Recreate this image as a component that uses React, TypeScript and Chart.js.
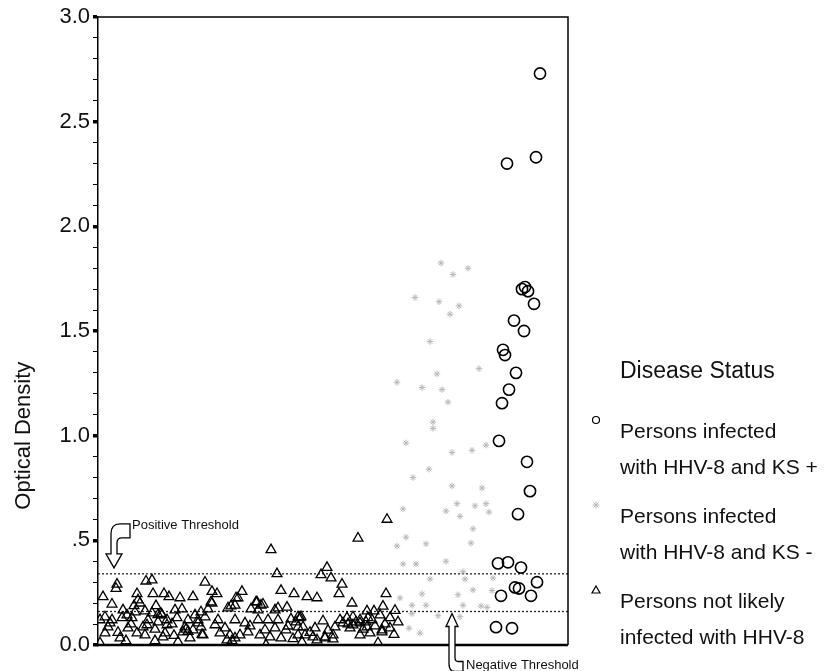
import React, { useEffect, useRef } from 'react';
import { Chart, registerables } from 'chart.js';

Chart.register(...registerables);

// ---- Axis / labels ----
const yMajorValues = [0, 0.5, 1, 1.5, 2, 2.5, 3];
const yMajorLabels = ['0.0', '.5', '1.0', '1.5', '2.0', '2.5', '3.0'];
const yAxisTitle = 'Optical Density';
const positiveThreshold = 0.34;
const negativeThreshold = 0.16;
const positiveLabel = 'Positive Threshold';
const negativeLabel = 'Negative Threshold';
const legendTitle = 'Disease Status';
const seriesNames = [
  ['Persons infected', 'with HHV-8 and KS +'],
  ['Persons infected', 'with HHV-8 and KS -'],
  ['Persons not likely', 'infected with HHV-8'],
];

// ---- KS+ (circles): subject order, optical density ----
const ksPosX = [442, 438, 409, 424, 427, 430, 436, 416, 426, 405, 407, 418, 411, 404, 401, 429, 432, 420, 400, 410, 423, 439, 417, 421, 403, 433, 398, 414];
const ksPosY = [2.73, 2.33, 2.30, 1.70, 1.71, 1.69, 1.63, 1.55, 1.50, 1.41, 1.385, 1.30, 1.22, 1.155, 0.975, 0.875, 0.735, 0.625, 0.39, 0.395, 0.37, 0.30, 0.275, 0.27, 0.235, 0.235, 0.085, 0.08];

// ---- KS- (gray stars) ----
const ksNegX = [343, 370, 355, 317, 341, 361, 352, 332, 381, 339, 299, 324, 344, 350, 335, 335, 308, 388, 374, 354, 331, 315, 354, 384, 305, 348, 359, 377, 388, 391, 362, 375, 308, 299, 328, 373, 305, 318, 348, 365, 332, 367, 395, 375, 360, 324, 302, 314, 328, 365, 383, 389, 340, 362, 314, 311, 322, 394];
const ksNegY = [1.825, 1.80, 1.77, 1.66, 1.64, 1.62, 1.58, 1.45, 1.32, 1.295, 1.255, 1.23, 1.22, 1.16, 1.065, 1.035, 0.965, 0.955, 0.93, 0.92, 0.84, 0.80, 0.76, 0.75, 0.65, 0.64, 0.675, 0.665, 0.675, 0.635, 0.615, 0.555, 0.515, 0.473, 0.483, 0.487, 0.387, 0.387, 0.40, 0.35, 0.315, 0.315, 0.32, 0.263, 0.24, 0.244, 0.225, 0.19, 0.19, 0.19, 0.186, 0.18, 0.14, 0.135, 0.15, 0.08, 0.057, 0.26];

// ---- Not infected (triangles) ----
const negX = [
  289, 260, 173, 179, 183, 229, 223, 233, 244, 196, 209, 219, 241, 288, 189, 254, 285, 203, 225, 297, 280,
  19, 18, 48, 54, 107, 5, 39, 55, 66, 71, 82, 95, 114, 119, 144, 14, 42, 58, 114, 138, 159, 165,
  40, 36, 25, 7, 29, 37, 47, 54, 64, 77, 84, 97,
  2, 14, 24, 34, 50, 69, 79, 90,
  10, 30, 45, 49, 69, 87, 95,
  7, 22, 39, 47, 65, 67, 92, 2, 85,
  12, 20, 33, 57, 60, 74, 76, 100, 104, 57, 28, 80,
  113, 140, 137, 158, 163, 103, 110, 130, 133, 153, 160, 177, 180,
  100, 107, 120, 137, 160, 170, 180, 193, 200,
  103, 117, 127, 147, 152, 167, 177, 188, 200,
  105, 122, 132, 142, 162, 172, 183, 200, 137, 168, 150, 129, 134,
  269, 276, 249, 255, 270, 282, 292, 202,
  205, 217, 237, 245, 252, 262, 269, 277, 284, 292,
  207, 215, 227, 235, 262, 272, 284,
  204, 219, 227, 235, 265, 258, 242, 230, 212, 287, 296, 300,
  60, 63, 88, 90, 250, 255, 262, 268, 274, 190, 195, 198,
];
const negY = [
  0.60, 0.51, 0.455, 0.34, 0.26, 0.37, 0.335, 0.32, 0.29, 0.245, 0.23, 0.225, 0.245, 0.245, 0.18, 0.20, 0.185, 0.135, 0.115, 0.165, 0.01,
  0.29, 0.27, 0.305, 0.31, 0.30, 0.23, 0.245, 0.245, 0.245, 0.23, 0.225, 0.23, 0.255, 0.245, 0.255, 0.195, 0.20, 0.187, 0.20, 0.225, 0.205, 0.195,
  0.215, 0.187, 0.167, 0.134, 0.143, 0.158, 0.162, 0.153, 0.143, 0.167, 0.172, 0.143,
  0.12, 0.12, 0.13, 0.13, 0.12, 0.12, 0.13, 0.12,
  0.086, 0.081, 0.086, 0.096, 0.096, 0.086, 0.072,
  0.057, 0.033, 0.057, 0.048, 0.038, 0.057, 0.033, 0.01, 0.062,
  0.105, 0.06, 0.10, 0.075, 0.11, 0.10, 0.045, 0.105, 0.05, 0.02, 0.02, 0.015,
  0.205, 0.225, 0.19, 0.205, 0.19, 0.158, 0.172, 0.177, 0.186, 0.172, 0.167, 0.167, 0.177,
  0.12, 0.134, 0.12, 0.12, 0.12, 0.12, 0.12, 0.124, 0.134,
  0.086, 0.096, 0.081, 0.105, 0.091, 0.072, 0.081, 0.072, 0.086,
  0.048, 0.057, 0.048, 0.048, 0.048, 0.038, 0.033, 0.048, 0.033, 0.0, 0.062, 0.024, 0.02,
  0.162, 0.162, 0.13, 0.134, 0.13, 0.143, 0.13, 0.13,
  0.086, 0.081, 0.086, 0.105, 0.081, 0.105, 0.086, 0.091, 0.072, 0.081,
  0.048, 0.038, 0.038, 0.048, 0.048, 0.057, 0.062,
  0.014, 0.024, 0.033, 0.029, 0.075, 0.11, 0.12, 0.07, 0.06, 0.10, 0.05, 0.11,
  0.145, 0.15, 0.075, 0.065, 0.10, 0.095, 0.12, 0.11, 0.12, 0.09, 0.03, 0.11,
];

const xMin = 0;
const xMax = 470;
const FONT = '"Liberation Sans", Arial, Helvetica, sans-serif';

const toPoints = (xs: number[], ys: number[]) => xs.map((x, i) => ({ x, y: ys[i] }));
const isMajor = (v: number) => yMajorValues.some((m) => Math.abs(m - v) < 1e-6);

const decorPlugin = {
  id: 'decor',
  afterDraw(chart: any) {
    const ctx: CanvasRenderingContext2D = chart.ctx;
    const { left, right, top, bottom } = chart.chartArea;
    const xs = chart.scales.x;
    const ys = chart.scales.y;
    ctx.save();
    // frame
    ctx.strokeStyle = '#000';
    ctx.lineWidth = 1.5;
    ctx.beginPath();
    ctx.moveTo(left, top);
    ctx.lineTo(right, top);
    ctx.lineTo(right, bottom);
    ctx.stroke();
    ctx.lineWidth = 2.5;
    ctx.beginPath();
    ctx.moveTo(left - 1, bottom);
    ctx.lineTo(right, bottom);
    ctx.stroke();

    // y title
    ctx.fillStyle = '#111';
    ctx.save();
    ctx.translate(24, ys.getPixelForValue(1.0));
    ctx.rotate(-Math.PI / 2);
    ctx.font = `22px ${FONT}`;
    ctx.textAlign = 'center';
    ctx.textBaseline = 'middle';
    ctx.fillText(yAxisTitle, 0, 0);
    ctx.restore();

    // positive threshold arrow (pointing down)
    let tx = xs.getPixelForValue(16);
    let ty = ys.getPixelForValue(positiveThreshold) - 6;
    ctx.lineWidth = 1.3;
    ctx.fillStyle = '#fff';
    ctx.beginPath();
    ctx.moveTo(tx, ty);
    ctx.lineTo(tx - 8, ty - 14);
    ctx.lineTo(tx - 3, ty - 14);
    ctx.lineTo(tx - 3, ty - 34);
    ctx.quadraticCurveTo(tx - 3, ty - 44, tx + 6, ty - 44);
    ctx.lineTo(tx + 16, ty - 44);
    ctx.lineTo(tx + 16, ty - 30);
    ctx.lineTo(tx + 8, ty - 30);
    ctx.quadraticCurveTo(tx + 3, ty - 30, tx + 3, ty - 25);
    ctx.lineTo(tx + 3, ty - 14);
    ctx.lineTo(tx + 8, ty - 14);
    ctx.closePath();
    ctx.fill();
    ctx.stroke();
    ctx.fillStyle = '#111';
    ctx.font = `13px ${FONT}`;
    ctx.textAlign = 'left';
    ctx.textBaseline = 'middle';
    ctx.fillText(positiveLabel, tx + 18, ty - 42);

    // negative threshold arrow (pointing up)
    tx = xs.getPixelForValue(354);
    ty = ys.getPixelForValue(negativeThreshold) + 2;
    ctx.fillStyle = '#fff';
    ctx.beginPath();
    ctx.moveTo(tx, ty);
    ctx.lineTo(tx + 6, ty + 13);
    ctx.lineTo(tx + 3, ty + 13);
    ctx.lineTo(tx + 3, ty + 44);
    ctx.quadraticCurveTo(tx + 3, ty + 48, tx + 6, ty + 48);
    ctx.lineTo(tx + 11, ty + 48);
    ctx.lineTo(tx + 11, ty + 58);
    ctx.lineTo(tx + 3, ty + 58);
    ctx.quadraticCurveTo(tx - 3, ty + 58, tx - 3, ty + 50);
    ctx.lineTo(tx - 3, ty + 13);
    ctx.lineTo(tx - 6, ty + 13);
    ctx.closePath();
    ctx.fill();
    ctx.stroke();
    ctx.fillStyle = '#111';
    ctx.fillText(negativeLabel, tx + 14, ty + 52);

    // legend
    const lx = right + 52;
    ctx.font = `23px ${FONT}`;
    ctx.fillText(legendTitle, lx, 372);
    ctx.font = `21px ${FONT}`;
    const itemTops = [432, 517, 602];
    itemTops.forEach((yy, i) => {
      ctx.fillStyle = '#111';
      ctx.fillText(seriesNames[i][0], lx, yy);
      ctx.fillText(seriesNames[i][1], lx, yy + 36);
      const mx = right + 28;
      const my = yy - 12;
      ctx.lineWidth = 1.2;
      if (i === 0) {
        ctx.strokeStyle = '#000';
        ctx.beginPath();
        ctx.arc(mx, my, 3.5, 0, Math.PI * 2);
        ctx.stroke();
      } else if (i === 1) {
        ctx.strokeStyle = '#b8b8b8';
        ctx.lineWidth = 1;
        ctx.beginPath();
        for (let k = 0; k < 4; k++) {
          const a = (k * Math.PI) / 4;
          ctx.moveTo(mx - Math.cos(a) * 3.5, my - Math.sin(a) * 3.5);
          ctx.lineTo(mx + Math.cos(a) * 3.5, my + Math.sin(a) * 3.5);
        }
        ctx.stroke();
      } else {
        ctx.strokeStyle = '#000';
        ctx.beginPath();
        ctx.moveTo(mx, my - 4);
        ctx.lineTo(mx + 4, my + 3);
        ctx.lineTo(mx - 4, my + 3);
        ctx.closePath();
        ctx.stroke();
      }
    });
    ctx.restore();
  },
};

export default function App() {
  const ref = useRef<HTMLCanvasElement>(null);
  useEffect(() => {
    document.body.style.margin = '0';
    const canvas = ref.current;
    if (!canvas) return;
    const chart = new Chart(canvas, {
      type: 'scatter',
      data: {
        datasets: [
          {
            label: 'neg',
            data: toPoints(negX, negY),
            pointStyle: 'triangle',
            pointRadius: 5.7,
            borderColor: '#000',
            backgroundColor: 'rgba(255,255,255,0)',
            borderWidth: 1.3,
          },
          {
            label: 'ksneg',
            data: toPoints(ksNegX, ksNegY),
            pointStyle: 'star',
            pointRadius: 3.3,
            borderColor: '#b8b8b8',
            backgroundColor: 'rgba(0,0,0,0)',
            borderWidth: 1,
          },
          {
            label: 'kspos',
            data: toPoints(ksPosX, ksPosY),
            pointStyle: 'circle',
            pointRadius: 5.6,
            borderColor: '#000',
            backgroundColor: 'rgba(255,255,255,0)',
            borderWidth: 1.6,
          },
          {
            label: 'pos threshold',
            data: [{ x: xMin, y: positiveThreshold }, { x: xMax, y: positiveThreshold }],
            showLine: true,
            pointRadius: 0,
            borderColor: '#222',
            borderWidth: 1.3,
            borderDash: [2, 2],
          } as any,
          {
            label: 'neg threshold',
            data: [{ x: xMin, y: negativeThreshold }, { x: xMax, y: negativeThreshold }],
            showLine: true,
            pointRadius: 0,
            borderColor: '#222',
            borderWidth: 1.3,
            borderDash: [2, 2],
          } as any,
        ],
      },
      options: {
        responsive: false,
        animation: false,
        devicePixelRatio: 1,
        layout: { padding: { left: 0, right: 263, top: 17, bottom: 26 } },
        plugins: { legend: { display: false }, tooltip: { enabled: false } },
        scales: {
          x: { type: 'linear', min: xMin, max: xMax, display: false },
          y: {
            min: 0,
            max: 3,
            afterFit: (s: any) => {
              s.width = 98;
            },
            ticks: {
              stepSize: 0.1,
              autoSkip: false,
              padding: 3,
              color: '#111',
              font: { size: 22, family: FONT },
              callback: (v: any) => {
                const i = yMajorValues.findIndex((m) => Math.abs(m - Number(v)) < 1e-6);
                return i >= 0 ? yMajorLabels[i] : '';
              },
            },
            grid: {
              drawOnChartArea: false,
              drawTicks: true,
              tickLength: 5,
              color: '#000',
              lineWidth: (c: any) => (c.tick && isMajor(c.tick.value) ? 3.5 : 1),
            },
            border: { display: true, color: '#000', width: 1.5 },
          },
        },
      } as any,
      plugins: [decorPlugin],
    });
    return () => chart.destroy();
  }, []);
  return (
    <div style={{ width: 831, height: 671 }}>
      <canvas ref={ref} width={831} height={671} style={{ display: 'block' }} />
    </div>
  );
}
